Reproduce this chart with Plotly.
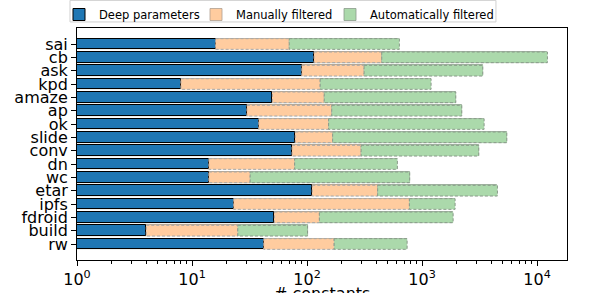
import plotly.graph_objects as go

categories = ["sai", "cb", "ask", "kpd", "amaze", "ap", "ok", "slide", "conv",
              "dn", "wc", "etar", "ipfs", "fdroid", "build", "rw"]
deep_params = [16, 115, 90, 8, 50, 30, 38, 79, 74, 14, 14, 111, 23, 52, 4, 42]
manually_filtered = [70, 446, 313, 130, 141, 164, 154, 167, 295, 78, 32, 411, 776, 128, 25, 172]
auto_filtered = [635, 12300, 3370, 1197, 1963, 2213, 3460, 5450, 3110, 610, 780, 4520, 1936, 1861, 101, 741]

x_tickvals = [1, 10, 100, 1000, 10000]
x_ticktext = ["10<sup>0</sup>", "10<sup>1</sup>", "10<sup>2</sup>", "10<sup>3</sup>", "10<sup>4</sup>"]

idx = list(range(len(categories)))
BAR_H = 0.8

fig = go.Figure()
fig.add_trace(go.Bar(
    name="Automatically filtered", y=idx, x=[a - 1 for a in auto_filtered], base=1,
    orientation="h", width=BAR_H,
    marker=dict(color="#abd9ab", line=dict(width=0.8, color="#8a9a8a")),
    legend="legend3",
))
fig.add_trace(go.Bar(
    name="Manually filtered", y=idx, x=[m - 1 for m in manually_filtered], base=1,
    orientation="h", width=BAR_H,
    marker=dict(color="#ffcc9f", line=dict(width=0.8, color="#b0a090")),
    legend="legend2",
))
fig.add_trace(go.Bar(
    name="Deep parameters", y=idx, x=[d - 1 for d in deep_params], base=1,
    orientation="h", width=BAR_H,
    marker=dict(color="#1f77b4", line=dict(width=1, color="black")),
    legend="legend",
))

shapes = []
for i in idx:
    shapes.append(dict(type="rect", xref="x", yref="y",
                       x0=deep_params[i], x1=manually_filtered[i],
                       y0=i - BAR_H / 2, y1=i + BAR_H / 2,
                       line=dict(color="#a8a8a8", width=1, dash="3px,2px"),
                       fillcolor="#ffcc9f", layer="above"))
    shapes.append(dict(type="rect", xref="x", yref="y",
                       x0=manually_filtered[i], x1=auto_filtered[i],
                       y0=i - BAR_H / 2, y1=i + BAR_H / 2,
                       line=dict(color="#8a9a8a", width=1, dash="3px,2px"),
                       fillcolor="#abd9ab", layer="above"))

# legend frame (decoration)
shapes.append(dict(type="rect", xref="paper", yref="paper",
                   x0=-0.0143, x1=0.855, y0=1.026, y1=1.119,
                   line=dict(color="#d0d0d0", width=1), fillcolor="rgba(0,0,0,0)", layer="below"))

minor_vals = [k * 10 ** d for d in range(0, 5) for k in range(2, 10)]

leg_common = dict(orientation="h", xref="container", yref="container",
                  xanchor="left", yanchor="top", y=1.0,
                  font=dict(size=11.5), borderwidth=0,
                  bgcolor="rgba(0,0,0,0)", itemwidth=30)

fig.update_layout(
    width=598, height=293,
    margin=dict(l=77, r=31, t=28, b=33, autoexpand=False),
    barmode="overlay",
    bargap=0,
    plot_bgcolor="white", paper_bgcolor="white",
    font=dict(family="DejaVu Sans", size=16, color="black"),
    shapes=shapes,
    showlegend=True,
    legend=dict(x=59 / 598, **leg_common),
    legend2=dict(x=196 / 598, **leg_common),
    legend3=dict(x=330 / 598, **leg_common),
    xaxis=dict(
        type="log", range=[0, 4.26],
        tickmode="array", tickvals=x_tickvals, ticktext=x_ticktext,
        ticks="outside", ticklen=5, tickwidth=1, tickcolor="black",
        minor=dict(tickmode="array", tickvals=minor_vals, ticks="outside",
                   ticklen=3, tickwidth=1, tickcolor="black"),
        showgrid=False, zeroline=False,
        showline=True, linecolor="black", linewidth=1, mirror=True,
        tickfont=dict(size=16),
        automargin=False,
    ),
    yaxis=dict(
        range=[16.2, -1.2],
        tickmode="array", tickvals=idx, ticktext=categories,
        ticks="outside", ticklen=5, tickwidth=1, tickcolor="black",
        showgrid=False, zeroline=False,
        showline=True, linecolor="black", linewidth=1, mirror=True,
        tickfont=dict(size=16),
        automargin=False,
    ),
    annotations=[dict(text="# constants", xref="paper", yref="paper",
                      x=0.5, y=0, xanchor="center", yanchor="top", yshift=-22,
                      showarrow=False, font=dict(size=16))],
)

fig.write_html("out.html", config={"displayModeBar": False},
               post_script="document.body.style.margin='0px';")
